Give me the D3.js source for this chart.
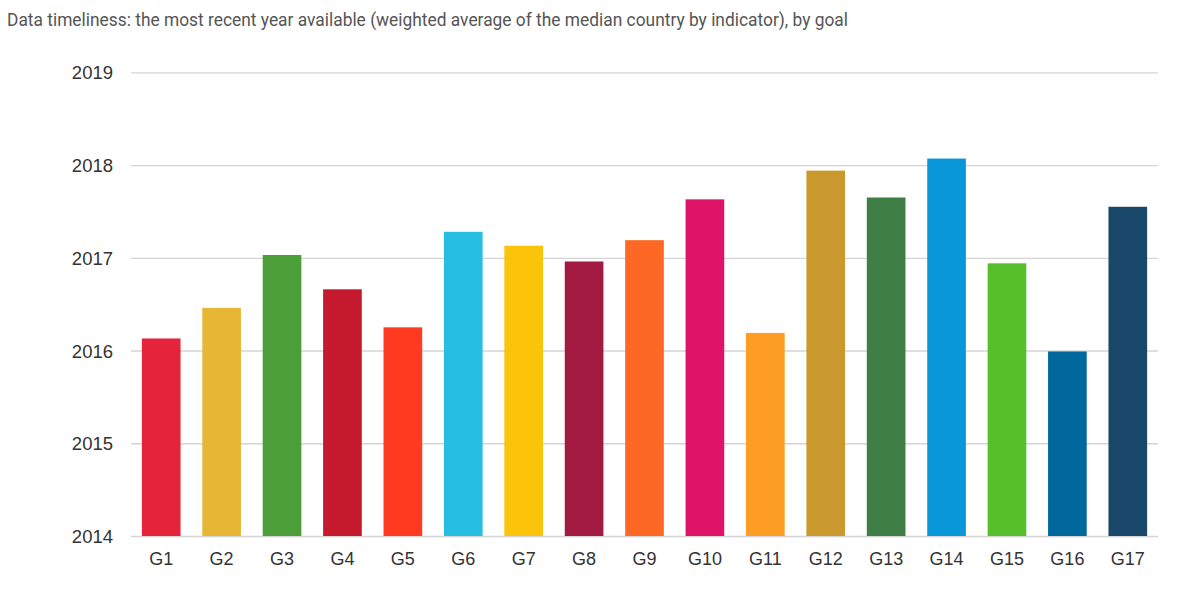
<!DOCTYPE html>
<html><head><meta charset="utf-8">
<script src="https://cdn.jsdelivr.net/npm/d3@7"></script>
<style>body{margin:0;background:#fff}svg{display:block}</style>
</head><body>
<svg id="c" width="1200" height="604"></svg>
<script>
const categories = ["G1","G2","G3","G4","G5","G6","G7","G8","G9","G10","G11","G12","G13","G14","G15","G16","G17"];
const values = [2016.13,2016.46,2017.03,2016.66,2016.25,2017.28,2017.13,2016.96,2017.19,2017.63,2016.19,2017.94,2017.65,2018.07,2016.94,2015.99,2017.55];
const colors = ["#E5243B","#E5B735","#4C9F38","#C5192D","#FF3A21","#26BDE2","#FCC30B","#A21942","#FD6925","#DD1367","#FD9D24","#C9992E","#3F7E44","#0A97D9","#56C02B","#00689D","#19486A"];
const yTicks = [2014,2015,2016,2017,2018,2019];
const title = "Data timeliness: the most recent year available (weighted average of the median country by indicator), by goal";

const svg = d3.select("#c");
const m = {left:131, right:1158, top:72.3, bottom:536};
const x = d3.scaleBand().domain(categories).range([m.left, m.right]).paddingInner(0.36).paddingOuter(0.18);
const y = d3.scaleLinear().domain([2014,2019]).range([m.bottom, m.top]);

svg.append("text").attr("x",7).attr("y",26).attr("fill","#555")
  .style("font-family","'Liberation Sans Narrow','Roboto',sans-serif").style("font-size","18px")
  .attr("textLength",841).attr("lengthAdjust","spacingAndGlyphs").text(title);

const ya = svg.append("g").attr("transform",`translate(${m.left},0)`)
  .call(d3.axisLeft(y).tickValues(yTicks).tickFormat(d3.format("d")).tickSize(-(m.right-m.left)).tickPadding(18));
ya.select(".domain").remove();
ya.selectAll("line").attr("stroke","#d4d4d4").attr("stroke-width",1.3);
ya.selectAll("text").attr("fill","#333").style("font-family","'Liberation Sans',Arial,sans-serif").style("font-size","18.5px").attr("dy","0.35em");

svg.append("g").selectAll("rect").data(values).join("rect")
  .attr("x",(d,i)=>x(categories[i])).attr("width",x.bandwidth())
  .attr("y",d=>y(d)).attr("height",d=>y(2014)-y(d))
  .attr("fill",(d,i)=>colors[i]);

const xa = svg.append("g").attr("transform",`translate(0,${m.bottom})`)
  .call(d3.axisBottom(x).tickSize(0).tickPadding(16));
xa.select(".domain").remove();
xa.selectAll("text").attr("fill","#333").style("font-family","'Liberation Sans',Arial,sans-serif").style("font-size","18px");
</script>
</body></html>
